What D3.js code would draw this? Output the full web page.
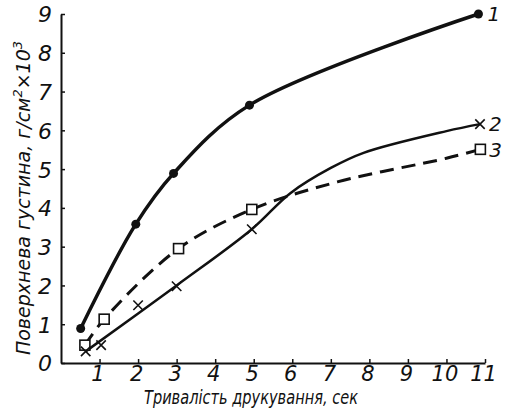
<!DOCTYPE html>
<html>
<head>
<meta charset="utf-8">
<script src="https://cdn.jsdelivr.net/npm/d3@7"></script>
<style>
  body { margin: 0; background: #fff; }
  text { font-family: "DejaVu Sans", sans-serif; font-style: italic; fill: #111; }
</style>
</head>
<body>
<div id="chart"></div>
<script>
// tick labels
const xTicks = [1, 2, 3, 4, 5, 6, 7, 8, 9, 10, 11];
const yTicks = [0, 1, 2, 3, 4, 5, 6, 7, 8, 9];

// measured points (markers)
const series1 = [[0.51, 0.89], [1.94, 3.58], [2.92, 4.89], [4.89, 6.65], [10.83, 9.0]];
const series2 = [[0.64, 0.3], [1.04, 0.46], [2.0, 1.49], [3.0, 1.98], [4.95, 3.45], [10.87, 6.16]];
const series3 = [[0.62, 0.46], [1.12, 1.13], [3.05, 2.95], [4.95, 3.96], [10.88, 5.51]];

// drawn curves (the hand-drawn lines between markers)
const curve1 = [[0.51, 0.89], [1.94, 3.58], [2.92, 4.89], [4.89, 6.65], [10.83, 9.0]];
const curve2 = [[0.64, 0.3], [3.0, 2.0], [4.95, 3.45], [5.95, 4.38], [7.0, 5.03], [7.85, 5.42], [10.0, 5.98], [10.87, 6.16]];
const curve3 = [[0.62, 0.46], [1.12, 1.13], [3.05, 2.95], [4.95, 3.96], [7.17, 4.67], [10.0, 5.28], [10.88, 5.51]];

const seriesNames = ["1", "2", "3"];

const width = 505, height = 411;

const svg = d3.select("#chart").append("svg")
    .attr("width", width)
    .attr("height", height);

const x = d3.scaleLinear().domain([0, 11]).range([61, 485]);
const y = d3.scaleLinear().domain([0, 9]).range([363, 14]);

// axes
const xAxis = svg.append("g")
    .attr("transform", `translate(0,${y(0)})`)
    .call(d3.axisBottom(x).tickValues(xTicks).tickSize(-4).tickSizeOuter(0).tickPadding(3).tickFormat(d3.format("d")));
xAxis.select(".domain").attr("stroke-width", 2).attr("stroke", "#111");
xAxis.selectAll(".tick line").attr("stroke-width", 1.5).attr("stroke", "#111");
xAxis.selectAll(".tick text").attr("font-size", 21).attr("dy", "0.72em").attr("dx", -2);

const yAxis = svg.append("g")
    .attr("transform", `translate(${x(0)},0)`)
    .call(d3.axisLeft(y).tickValues(yTicks).tickSize(-4).tickSizeOuter(0).tickPadding(9).tickFormat(d3.format("d")));
yAxis.select(".domain").attr("stroke-width", 2).attr("stroke", "#111");
yAxis.selectAll(".tick line").attr("stroke-width", 1.5).attr("stroke", "#111");
yAxis.selectAll(".tick text").attr("font-size", 22).attr("dy", "0.36em");

const smooth = d3.line()
    .x(d => x(d[0]))
    .y(d => y(d[1]))
    .curve(d3.curveCatmullRom.alpha(0.5));

svg.append("path").datum(curve1).attr("d", smooth)
    .attr("fill", "none").attr("stroke", "#111").attr("stroke-width", 3.5);
svg.append("path").datum(curve2).attr("d", smooth)
    .attr("fill", "none").attr("stroke", "#111").attr("stroke-width", 2.5);
svg.append("path").datum(curve3).attr("d", smooth)
    .attr("fill", "none").attr("stroke", "#111").attr("stroke-width", 3)
    .attr("stroke-dasharray", "14,8");

// markers
svg.selectAll(".dot").data(series1).enter().append("circle")
    .attr("cx", d => x(d[0])).attr("cy", d => y(d[1]))
    .attr("r", 4.5).attr("fill", "#111");

svg.selectAll(".sq").data(series3).enter().append("rect")
    .attr("x", d => x(d[0]) - 5).attr("y", d => y(d[1]) - 5)
    .attr("width", 10).attr("height", 10)
    .attr("fill", "#fff").attr("stroke", "#111").attr("stroke-width", 1.6);

const cross = d3.symbol().type(d3.symbolX).size(60);
svg.selectAll(".cross").data(series2).enter().append("path")
    .attr("d", cross)
    .attr("transform", d => `translate(${x(d[0])},${y(d[1])})`)
    .attr("fill", "none").attr("stroke", "#111").attr("stroke-width", 1.6);

// curve numbers at line ends
const ends = [series1, series2, series3].map(s => s[s.length - 1]);
svg.selectAll(".lbl").data(ends).enter().append("text")
    .attr("x", d => x(d[0]) + 9)
    .attr("y", d => y(d[1]))
    .attr("dy", "0.36em")
    .attr("font-size", 20)
    .text((d, i) => seriesNames[i]);

// axis titles
svg.append("text")
    .attr("x", 251).attr("y", 404)
    .attr("text-anchor", "middle")
    .attr("font-size", 19)
    .attr("textLength", 214)
    .attr("lengthAdjust", "spacingAndGlyphs")
    .text("Тривалість  друкування,  сек");

const yTitle = svg.append("text")
    .attr("transform", "translate(30,198) rotate(-90)")
    .attr("text-anchor", "middle")
    .attr("font-size", 19);
yTitle.append("tspan").text("Поверхнева  густина,  г/см");
yTitle.append("tspan").attr("font-size", 13).attr("dy", -8).text("2");
yTitle.append("tspan").attr("dy", 8).text("×10");
yTitle.append("tspan").attr("font-size", 13).attr("dy", -8).text("3");
</script>
</body>
</html>
